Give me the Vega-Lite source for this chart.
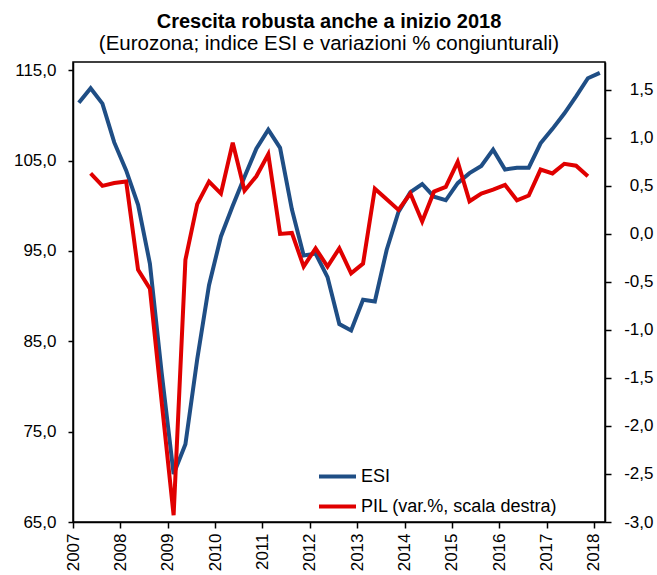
{
  "$schema": "https://vega.github.io/schema/vega-lite/v6.json",
  "autosize": {"type": "none"},
  "width": 532,
  "height": 460,
  "padding": {"left": 73, "top": 62, "right": 52, "bottom": 53},
  "background": "white",
  "title": {
    "text": "Crescita robusta anche a inizio 2018",
    "subtitle": "(Eurozona; indice ESI e variazioni % congiunturali)",
    "anchor": "middle",
    "dx": -10,
    "offset": 7,
    "font": "Liberation Sans",
    "fontSize": 20,
    "fontWeight": "bold",
    "color": "black",
    "subtitleFont": "Liberation Sans",
    "subtitleFontSize": 20.5,
    "subtitleColor": "black",
    "subtitlePadding": 2
  },
  "config": {
    "locale": {"number": {"decimal": ",", "thousands": ".", "grouping": [3], "currency": ["€", ""], "minus": "-"}},
    "font": "Liberation Sans",
    "view": {"stroke": "black", "strokeWidth": 1.5},
    "axis": {
      "grid": false,
      "domainColor": "black",
      "domainWidth": 1.5,
      "tickColor": "black",
      "tickWidth": 1.5,
      "labelColor": "black",
      "labelFont": "Liberation Sans",
      "labelFontSize": 17,
      "labelOverlap": false,
      "labelFlush": false,
      "labelBound": false,
      "title": null
    }
  },
  "data": {
    "values": [
      {"date": "2007-02-15", "series": "ESI", "value": 111.4},
      {"date": "2007-05-17", "series": "ESI", "value": 113.0},
      {"date": "2007-08-16", "series": "ESI", "value": 111.3},
      {"date": "2007-11-15", "series": "ESI", "value": 107.0},
      {"date": "2008-02-15", "series": "ESI", "value": 103.9},
      {"date": "2008-05-17", "series": "ESI", "value": 100.1},
      {"date": "2008-08-16", "series": "ESI", "value": 93.6},
      {"date": "2008-11-15", "series": "ESI", "value": 81.5},
      {"date": "2009-02-15", "series": "ESI", "value": 70.3},
      {"date": "2009-05-17", "series": "ESI", "value": 73.6},
      {"date": "2009-08-16", "series": "ESI", "value": 83.0},
      {"date": "2009-11-15", "series": "ESI", "value": 91.2},
      {"date": "2010-02-15", "series": "ESI", "value": 96.6},
      {"date": "2010-05-17", "series": "ESI", "value": 100.0},
      {"date": "2010-08-16", "series": "ESI", "value": 103.2},
      {"date": "2010-11-15", "series": "ESI", "value": 106.3},
      {"date": "2011-02-15", "series": "ESI", "value": 108.4},
      {"date": "2011-05-17", "series": "ESI", "value": 106.4},
      {"date": "2011-08-16", "series": "ESI", "value": 99.6},
      {"date": "2011-11-15", "series": "ESI", "value": 94.5},
      {"date": "2012-02-15", "series": "ESI", "value": 94.7},
      {"date": "2012-05-17", "series": "ESI", "value": 92.1},
      {"date": "2012-08-16", "series": "ESI", "value": 86.9},
      {"date": "2012-11-15", "series": "ESI", "value": 86.2},
      {"date": "2013-02-15", "series": "ESI", "value": 89.6},
      {"date": "2013-05-17", "series": "ESI", "value": 89.4},
      {"date": "2013-08-16", "series": "ESI", "value": 95.1},
      {"date": "2013-11-15", "series": "ESI", "value": 99.3},
      {"date": "2014-02-15", "series": "ESI", "value": 101.5},
      {"date": "2014-05-17", "series": "ESI", "value": 102.4},
      {"date": "2014-08-16", "series": "ESI", "value": 101.0},
      {"date": "2014-11-15", "series": "ESI", "value": 100.6},
      {"date": "2015-02-15", "series": "ESI", "value": 102.5},
      {"date": "2015-05-17", "series": "ESI", "value": 103.6},
      {"date": "2015-08-16", "series": "ESI", "value": 104.4},
      {"date": "2015-11-15", "series": "ESI", "value": 106.2},
      {"date": "2016-02-15", "series": "ESI", "value": 104.0},
      {"date": "2016-05-17", "series": "ESI", "value": 104.2},
      {"date": "2016-08-16", "series": "ESI", "value": 104.2},
      {"date": "2016-11-15", "series": "ESI", "value": 106.9},
      {"date": "2017-02-15", "series": "ESI", "value": 108.5},
      {"date": "2017-05-17", "series": "ESI", "value": 110.2},
      {"date": "2017-08-16", "series": "ESI", "value": 112.1},
      {"date": "2017-11-15", "series": "ESI", "value": 114.1},
      {"date": "2018-02-15", "series": "ESI", "value": 114.7},
      {"date": "2007-05-17", "series": "PIL (var.%,  scala destra)", "value": 0.63},
      {"date": "2007-08-16", "series": "PIL (var.%,  scala destra)", "value": 0.50},
      {"date": "2007-11-15", "series": "PIL (var.%,  scala destra)", "value": 0.53},
      {"date": "2008-02-15", "series": "PIL (var.%,  scala destra)", "value": 0.545},
      {"date": "2008-05-17", "series": "PIL (var.%,  scala destra)", "value": -0.375},
      {"date": "2008-08-16", "series": "PIL (var.%,  scala destra)", "value": -0.57},
      {"date": "2008-11-15", "series": "PIL (var.%,  scala destra)", "value": -1.75},
      {"date": "2009-02-15", "series": "PIL (var.%,  scala destra)", "value": -2.93},
      {"date": "2009-05-17", "series": "PIL (var.%,  scala destra)", "value": -0.27},
      {"date": "2009-08-16", "series": "PIL (var.%,  scala destra)", "value": 0.31},
      {"date": "2009-11-15", "series": "PIL (var.%,  scala destra)", "value": 0.545},
      {"date": "2010-02-15", "series": "PIL (var.%,  scala destra)", "value": 0.42},
      {"date": "2010-05-17", "series": "PIL (var.%,  scala destra)", "value": 0.95},
      {"date": "2010-08-16", "series": "PIL (var.%,  scala destra)", "value": 0.45},
      {"date": "2010-11-15", "series": "PIL (var.%,  scala destra)", "value": 0.60},
      {"date": "2011-02-15", "series": "PIL (var.%,  scala destra)", "value": 0.83},
      {"date": "2011-05-17", "series": "PIL (var.%,  scala destra)", "value": 0.00},
      {"date": "2011-08-16", "series": "PIL (var.%,  scala destra)", "value": 0.01},
      {"date": "2011-11-15", "series": "PIL (var.%,  scala destra)", "value": -0.34},
      {"date": "2012-02-15", "series": "PIL (var.%,  scala destra)", "value": -0.15},
      {"date": "2012-05-17", "series": "PIL (var.%,  scala destra)", "value": -0.34},
      {"date": "2012-08-16", "series": "PIL (var.%,  scala destra)", "value": -0.15},
      {"date": "2012-11-15", "series": "PIL (var.%,  scala destra)", "value": -0.41},
      {"date": "2013-02-15", "series": "PIL (var.%,  scala destra)", "value": -0.31},
      {"date": "2013-05-17", "series": "PIL (var.%,  scala destra)", "value": 0.47},
      {"date": "2013-08-16", "series": "PIL (var.%,  scala destra)", "value": 0.36},
      {"date": "2013-11-15", "series": "PIL (var.%,  scala destra)", "value": 0.25},
      {"date": "2014-02-15", "series": "PIL (var.%,  scala destra)", "value": 0.42},
      {"date": "2014-05-17", "series": "PIL (var.%,  scala destra)", "value": 0.13},
      {"date": "2014-08-16", "series": "PIL (var.%,  scala destra)", "value": 0.44},
      {"date": "2014-11-15", "series": "PIL (var.%,  scala destra)", "value": 0.49},
      {"date": "2015-02-15", "series": "PIL (var.%,  scala destra)", "value": 0.75},
      {"date": "2015-05-17", "series": "PIL (var.%,  scala destra)", "value": 0.34},
      {"date": "2015-08-16", "series": "PIL (var.%,  scala destra)", "value": 0.42},
      {"date": "2015-11-15", "series": "PIL (var.%,  scala destra)", "value": 0.46},
      {"date": "2016-02-15", "series": "PIL (var.%,  scala destra)", "value": 0.51},
      {"date": "2016-05-17", "series": "PIL (var.%,  scala destra)", "value": 0.35},
      {"date": "2016-08-16", "series": "PIL (var.%,  scala destra)", "value": 0.40},
      {"date": "2016-11-15", "series": "PIL (var.%,  scala destra)", "value": 0.67},
      {"date": "2017-02-15", "series": "PIL (var.%,  scala destra)", "value": 0.63},
      {"date": "2017-05-17", "series": "PIL (var.%,  scala destra)", "value": 0.73},
      {"date": "2017-08-16", "series": "PIL (var.%,  scala destra)", "value": 0.71},
      {"date": "2017-11-15", "series": "PIL (var.%,  scala destra)", "value": 0.60}
    ]
  },
  "encoding": {
    "x": {
      "field": "date",
      "type": "temporal",
      "scale": {"domain": [{"year": 2007, "month": 1, "date": 1}, {"year": 2018, "month": 3, "date": 27}], "nice": false},
      "axis": {
        "format": "%Y",
        "tickCount": {"interval": "year", "step": 1},
        "labelAngle": 270,
        "labelFontSize": 17,
        "tickSize": 6,
        "labelPadding": 5
      }
    },
    "color": {
      "field": "series",
      "type": "nominal",
      "scale": {"domain": ["ESI", "PIL (var.%,  scala destra)"], "range": ["#1F4E85", "#E00000"]},
      "legend": {
        "title": null,
        "orient": "none",
        "legendX": 244,
        "legendY": 394,
        "symbolType": "stroke",
        "symbolSize": 1369,
        "symbolStrokeWidth": 4,
        "labelFont": "Liberation Sans",
        "labelFontSize": 18,
        "labelColor": "black",
        "labelOffset": 3,
        "rowPadding": -14,
        "labelLimit": 400
      }
    }
  },
  "layer": [
    {
      "transform": [{"filter": "datum.series === 'ESI'"}],
      "mark": {"type": "line", "strokeWidth": 4, "strokeJoin": "miter", "clip": true},
      "encoding": {
        "y": {
          "field": "value",
          "type": "quantitative",
          "scale": {"domain": [65, 115.9], "nice": false, "zero": false},
          "axis": {"orient": "left", "values": [65, 75, 85, 95, 105, 115], "format": ".1f", "tickSize": 5, "labelPadding": 12}
        }
      }
    },
    {
      "transform": [{"filter": "datum.series !== 'ESI'"}],
      "mark": {"type": "line", "strokeWidth": 4, "strokeJoin": "miter", "clip": true},
      "encoding": {
        "y": {
          "field": "value",
          "type": "quantitative",
          "scale": {"domain": [-3, 1.79], "nice": false, "zero": false},
          "axis": {"orient": "right", "values": [-3, -2.5, -2, -1.5, -1, -0.5, 0, 0.5, 1, 1.5], "format": ".1f", "tickSize": 6, "labelAlign": "right", "labelPadding": 42}
        }
      }
    }
  ],
  "resolve": {"scale": {"y": "independent"}}
}
